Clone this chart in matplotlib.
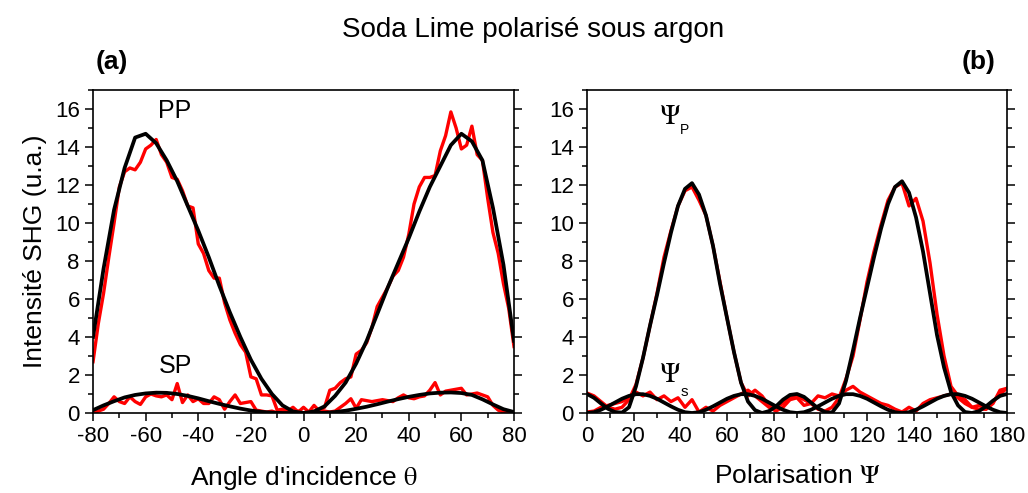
import numpy as np
import matplotlib
matplotlib.use('Agg')
import matplotlib.pyplot as plt
from matplotlib.ticker import MultipleLocator

plt.rcParams['font.family'] = ['Liberation Sans', 'DejaVu Sans']
plt.rcParams['mathtext.fontset'] = 'stix'
plt.rcParams['axes.unicode_minus'] = False

# (a) incidence angle scan, measured every 2 deg, fit every 4 deg
theta = np.arange(-80, 81, 2)
pp_meas = [2.7, 4.7, 6.3, 8.2, 10.0, 11.9, 12.7, 12.9, 12.8, 13.2,
           13.9, 14.1, 14.4, 13.6, 13.2, 12.4, 12.3, 11.7, 10.9, 10.8,
           8.9, 8.4, 7.5, 7.1, 7.1, 5.8, 4.9, 4.2, 3.6, 3.2,
           1.9, 1.8, 0.95, 0.95, 0.9, 0.15, 0.2, 0.1, 0.3, 0.05,
           0.3, 0.05, 0.4, 0.1, 0.3, 1.2, 1.3, 1.6, 1.8, 1.9,
           3.1, 3.3, 3.7, 4.5, 5.6, 6.1, 6.6, 7.2, 7.5, 8.2,
           9.4, 11.0, 11.9, 12.4, 12.4, 12.5, 13.8, 14.6, 15.85, 15.0,
           13.9, 14.1, 15.1, 13.6, 13.3, 11.3, 9.5, 8.4, 6.8, 5.5, 3.5]
sp_meas = [0.0, 0.1, 0.2, 0.5, 0.85, 0.6, 0.5, 0.85, 0.6, 0.45,
           0.85, 1.0, 0.9, 0.85, 0.95, 0.7, 1.55, 0.55, 0.95, 0.6,
           0.75, 0.5, 0.5, 0.85, 0.7, 0.2, 0.6, 0.95, 0.5, 0.55,
           0.6, 0.15, 0.1, 0.05, 0.1, 0.0, 0.05, 0.1, 0.0, 0.1,
           0.0, 0.05, 0.1, 0.0, 0.1, 0.05, 0.1, 0.3, 0.5, 0.75,
           0.25, 0.7, 0.65, 0.6, 0.65, 0.7, 0.65, 0.6, 0.8, 0.95,
           0.8, 0.75, 0.85, 0.9, 1.2, 1.6, 0.95, 1.15, 1.2, 1.25,
           1.3, 0.95, 1.0, 1.05, 0.95, 0.85, 0.4, 0.15, 0.05, 0.0, 0.0]

theta_fit = np.arange(-80, 81, 4)
pp_fit = [4.0, 7.6, 10.7, 12.9, 14.5, 14.7, 14.2, 13.3, 12.2, 10.9,
          9.6, 8.2, 6.7, 5.3, 4.0, 2.8, 1.8, 1.0, 0.4, 0.08,
          0.0, 0.08, 0.35, 0.9, 1.6, 2.6, 3.8, 5.2, 6.6, 7.9,
          9.2, 10.6, 11.9, 13.0, 14.1, 14.7, 14.3, 13.3, 10.8, 7.8, 3.8]
sp_fit = [0.15, 0.4, 0.62, 0.82, 0.95, 1.03, 1.07, 1.06, 1.0, 0.9,
          0.77, 0.62, 0.48, 0.35, 0.23, 0.13, 0.06, 0.02, 0.0, 0.0,
          0.0, 0.0, 0.01, 0.05, 0.12, 0.22, 0.33, 0.46, 0.6, 0.73,
          0.85, 0.95, 1.03, 1.07, 1.08, 1.05, 0.95, 0.72, 0.45, 0.2, 0.05]

# (b) polarisation scan, measured and fitted every 3 deg
psi = np.arange(0, 181, 3)
p_meas = [1.05, 0.9, 0.6, 0.3, 0.2, 0.3, 0.7, 1.5, 2.9, 4.6,
          6.3, 8.2, 9.6, 10.9, 11.7, 11.9, 11.2, 10.4, 8.8, 6.9,
          5.0, 3.2, 1.6, 0.9, 1.2, 0.9, 0.4, 0.3, 0.5, 0.8,
          0.9, 0.7, 0.5, 0.2, 0.1, 0.3, 0.8, 1.8, 3.0, 4.9,
          6.9, 8.5, 9.9, 11.2, 11.9, 12.1, 10.9, 11.3, 10.1, 7.9,
          5.2, 3.0, 1.4, 0.9, 0.7, 0.3, 0.2, 0.2, 0.5, 1.2, 1.3]
s_meas = [0.05, 0.1, 0.3, 0.4, 0.5, 0.6, 0.8, 1.1, 0.9, 1.1,
          0.7, 0.9, 0.6, 0.8, 0.3, 0.7, 0.05, 0.3, 0.1, 0.4,
          0.6, 0.8, 1.0, 1.2, 0.9, 0.6, 0.3, 0.1, 0.3, 0.7,
          0.8, 0.4, 0.5, 0.9, 0.8, 1.0, 0.9, 1.2, 1.4, 1.1,
          0.9, 0.7, 0.5, 0.4, 0.2, 0.05, 0.3, 0.1, 0.5, 0.7,
          0.8, 0.9, 1.0, 0.8, 0.5, 0.3, 0.4, 0.2, 0.6, 1.0, 1.3]
p_fit = [1.0, 0.8, 0.5, 0.22, 0.05, 0.02, 0.3, 1.4, 2.9, 4.6,
         6.2, 7.9, 9.5, 10.9, 11.8, 12.1, 11.5, 10.4, 8.8, 6.8,
         5.0, 3.2, 1.6, 0.6, 0.15, 0.0, 0.1, 0.35, 0.7, 0.95,
         1.0, 0.85, 0.55, 0.25, 0.05, 0.02, 0.5, 1.7, 3.3, 5.0,
         6.6, 8.2, 9.7, 11.0, 11.9, 12.2, 11.6, 10.3, 8.5, 6.3,
         4.1, 2.4, 1.1, 0.4, 0.05, 0.0, 0.1, 0.35, 0.65, 0.9, 1.0]
s_fit = [0.0, 0.04, 0.17, 0.35, 0.55, 0.75, 0.9, 0.99, 0.99, 0.9,
         0.75, 0.55, 0.35, 0.17, 0.04, 0.0, 0.04, 0.17, 0.35, 0.55,
         0.75, 0.9, 0.99, 0.99, 0.9, 0.75, 0.55, 0.35, 0.17, 0.04,
         0.0, 0.04, 0.17, 0.35, 0.55, 0.75, 0.9, 0.99, 0.99, 0.9,
         0.75, 0.55, 0.35, 0.17, 0.04, 0.0, 0.04, 0.17, 0.35, 0.55,
         0.75, 0.9, 0.99, 0.99, 0.9, 0.75, 0.55, 0.35, 0.17, 0.04, 0.0]

fs = 16
lab = 19
red = '#ff0000'

fig = plt.figure(figsize=(10.28, 4.93), dpi=100)
ax1 = fig.add_axes([0.0905, 0.1623, 0.4095, 0.655])
ax2 = fig.add_axes([0.571, 0.1623, 0.4086, 0.655])

ax1.plot(theta, pp_meas, color=red, lw=2.4)
ax1.plot(theta, sp_meas, color=red, lw=2.4)
ax1.plot(theta_fit, pp_fit, color='black', lw=2.7)
ax1.plot(theta_fit, sp_fit, color='black', lw=2.7)

ax2.plot(psi, p_meas, color=red, lw=2.4)
ax2.plot(psi, s_meas, color=red, lw=2.4)
ax2.plot(psi, p_fit, color='black', lw=2.7)
ax2.plot(psi, s_fit, color='black', lw=2.7)

ax1.set_xlim(-80, 80)
ax2.set_xlim(0, 180)
for ax in (ax1, ax2):
    ax.set_ylim(0, 17)
    ax.xaxis.set_major_locator(MultipleLocator(20))
    ax.xaxis.set_minor_locator(MultipleLocator(10))
    ax.yaxis.set_major_locator(MultipleLocator(2))
    ax.yaxis.set_minor_locator(MultipleLocator(1))
    ax.tick_params(which='both', direction='out', top=False, right=True,
                   labelsize=fs, width=1.1)
    ax.tick_params(which='major', length=6)
    ax.tick_params(which='minor', length=3.5)
    for sp in ax.spines.values():
        sp.set_linewidth(1.2)

ax1.set_ylabel('Intensité SHG (u.a.)', fontsize=lab, labelpad=6)
ax1.set_xlabel("Angle d'incidence $\\mathrm{\\theta}$", fontsize=lab, labelpad=12)
ax2.set_xlabel('Polarisation $\\Psi$', fontsize=lab, labelpad=12)

ax1.text(-48.8, 15.9, 'PP', fontsize=18, ha='center', va='center')
ax1.text(-48.8, 2.45, 'SP', fontsize=18, ha='center', va='center')
ax2.text(35.6, 15.6, '$\\Psi$', fontsize=20, ha='center', va='center')
ax2.text(42, 14.9, 'P', fontsize=10, ha='center', va='center')
ax2.text(35.6, 2.0, '$\\Psi$', fontsize=20, ha='center', va='center')
ax2.text(41.5, 1.1, 's', fontsize=11, ha='center', va='center')

fig.text(0.519, 0.939, 'Soda Lime polarisé sous argon', fontsize=20,
         ha='center', va='center')
fig.text(0.109, 0.874, '(a)', fontsize=19, fontweight='bold',
         ha='center', va='center')
fig.text(0.952, 0.874, '(b)', fontsize=19, fontweight='bold',
         ha='center', va='center')

fig.savefig('out.png', dpi=100)
